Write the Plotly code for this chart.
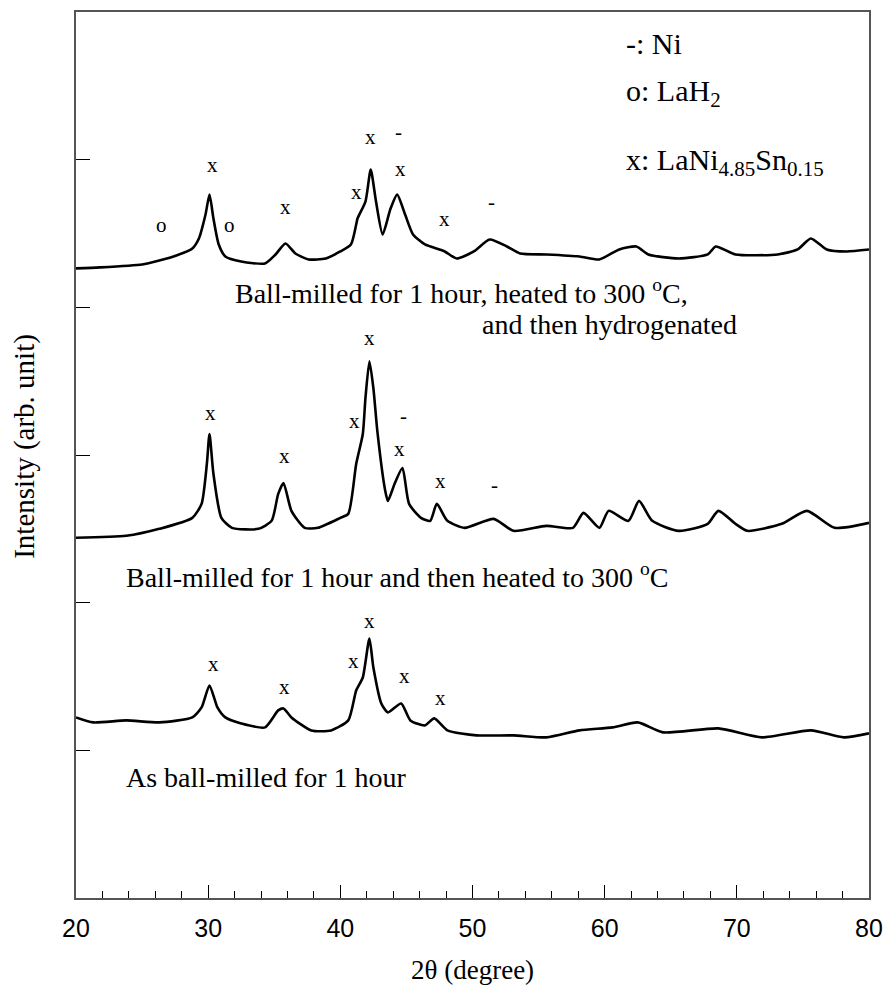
import plotly.graph_objects as go

# ---- data (2theta in degrees, intensity in arb. units) ----
top_2theta = [20.0, 21.8, 25.0, 26.3, 27.6, 28.8, 29.3, 29.8, 30.1, 30.4, 30.8, 31.3, 32.5, 34.3,
              35.1, 35.85, 36.6, 37.6, 38.9, 40.0, 40.8, 41.2, 41.3, 41.9, 42.3, 42.7, 43.2, 43.8,
              44.3, 44.9, 45.5, 46.4, 47.9, 48.8, 50.1, 51.3, 52.6, 53.6, 55.6, 58.1, 59.6, 61.1,
              62.4, 63.3, 65.6, 67.8, 68.4, 69.9, 73.1, 74.6, 75.6, 76.8, 78.3, 80.0]
top_int = [631, 632, 635, 639, 644, 651, 661, 685, 705, 681, 655, 643, 638, 636,
           645, 656, 646, 640, 641, 648, 655, 675, 681, 698, 730, 698, 665, 691,
           705, 685, 665, 655, 648, 641, 648, 660, 653, 646, 645, 643, 640, 650,
           653, 645, 641, 645, 653, 645, 645, 650, 661, 650, 648, 650]

mid_2theta = [20.0, 23.8, 26.3, 28.8, 29.5, 29.9, 30.1, 30.4, 31.0, 31.8, 33.8, 34.8, 35.3, 35.7,
              36.3, 37.3, 38.3, 40.0, 40.6, 41.2, 41.7, 41.9, 42.2, 42.5, 42.8, 43.4, 43.6, 44.1,
              44.7, 45.2, 46.1, 46.8, 47.3, 48.1, 49.4, 51.6, 53.1, 55.6, 57.6, 58.4, 59.6, 60.3,
              61.8, 62.6, 63.6, 65.6, 67.8, 68.6, 69.9, 70.8, 73.4, 75.3, 77.4, 80.0]
mid_int = [361, 363, 370, 381, 395, 435, 465, 425, 381, 371, 370, 378, 405, 416,
           388, 371, 371, 381, 385, 435, 465, 501, 538, 511, 468, 408, 398, 415,
           431, 395, 381, 378, 395, 378, 371, 380, 368, 373, 371, 386, 371, 388,
           378, 398, 378, 368, 375, 388, 375, 368, 375, 388, 371, 376]

bot_2theta = [20.0, 21.3, 23.8, 26.3, 28.8, 29.5, 30.1, 30.7, 31.3, 32.5, 34.3, 35.3, 35.7, 36.3,
              37.8, 39.3, 40.6, 41.2, 41.7, 42.2, 42.5, 43.1, 43.6, 44.6, 45.3, 46.4, 47.1, 48.1,
              50.3, 53.1, 55.6, 58.1, 60.6, 62.5, 64.4, 68.6, 71.9, 75.6, 78.1, 80.0]
bot_int = [181, 176, 178, 176, 181, 191, 213, 191, 181, 175, 171, 188, 190, 181,
           168, 168, 178, 208, 221, 260, 231, 195, 186, 195, 178, 173, 180, 168,
           163, 163, 161, 168, 171, 176, 166, 170, 161, 168, 161, 165]

# peak labels (symbol, 2theta, height)
peak_sym = ["o", "x", "o", "x", "x", "x", "-", "x", "x", "-",
            "x", "x", "x", "x", "-", "x", "x", "-",
            "x", "x", "x", "x", "x", "x"]
peak_2theta = [26.5, 30.3, 31.6, 35.85, 41.2, 42.3, 44.4, 44.55, 47.9, 51.4,
               30.2, 35.8, 41.1, 42.2, 44.8, 44.5, 47.6, 51.7,
               30.4, 35.8, 41.0, 42.2, 44.85, 47.6]
peak_int = [675, 735, 675, 693, 708, 763, 768, 731, 681, 698,
            486, 443, 478, 561, 483, 450, 418, 414,
            235, 211, 238, 278, 223, 200]

legend_text = ["-: Ni", "o: LaH<sub>2</sub>", "x: LaNi<sub>4.85</sub>Sn<sub>0.15</sub>"]
legend_2theta = [61.5, 61.5, 61.5]
legend_int = [856, 807, 738]

caption_text = ["Ball-milled for 1 hour, heated to 300 <sup>o</sup>C,",
                "and then hydrogenated",
                "Ball-milled for 1 hour and then heated to 300 <sup>o</sup>C",
                "As ball-milled for 1 hour"]
caption_2theta = [31.9, 50.6, 23.6, 23.6]
caption_int = [608, 575, 323, 121]

x_ticks = [20, 30, 40, 50, 60, 70, 80]
y_ticks = [148, 296, 444, 592, 740]

SERIF = "Liberation Serif, Times New Roman, serif"
SANS = "Liberation Sans, Arial, sans-serif"

fig = go.Figure()
for xs, ys in [(top_2theta, top_int), (mid_2theta, mid_int), (bot_2theta, bot_int)]:
    fig.add_trace(go.Scatter(x=xs, y=ys, mode="lines",
                             line=dict(color="black", width=2.6, shape="spline", smoothing=0.6),
                             showlegend=False, hoverinfo="skip"))

ann = []
for s, xv, yv in zip(peak_sym, peak_2theta, peak_int):
    ann.append(dict(x=xv, y=yv, xref="x", yref="y", text=s, showarrow=False,
                    font=dict(family=SERIF, size=21, color="black"),
                    xanchor="center", yanchor="middle"))
for t, xv, yv in zip(legend_text, legend_2theta, legend_int):
    ann.append(dict(x=xv, y=yv, xref="x", yref="y", text=t, showarrow=False,
                    font=dict(family=SERIF, size=30, color="black"),
                    xanchor="left", yanchor="middle"))
for t, xv, yv in zip(caption_text, caption_2theta, caption_int):
    ann.append(dict(x=xv, y=yv, xref="x", yref="y", text=t, showarrow=False,
                    font=dict(family=SERIF, size=28, color="black"),
                    xanchor="left", yanchor="middle"))

# axis titles
ann.append(dict(x=0.5, y=-0.081, xref="paper", yref="paper", text="2θ (degree)",
                showarrow=False, font=dict(family=SERIF, size=27, color="black"),
                xanchor="center", yanchor="middle"))
ann.append(dict(x=-0.066, y=0.51, xref="paper", yref="paper", text="Intensity (arb. unit)",
                showarrow=False, textangle=-90, font=dict(family=SERIF, size=29, color="black"),
                xanchor="center", yanchor="middle"))

fig.update_layout(
    width=893, height=996,
    margin=dict(l=76, r=18, t=10, b=98),
    paper_bgcolor="white", plot_bgcolor="white",
    annotations=ann,
    xaxis=dict(range=[20, 80], tickvals=x_ticks, ticks="inside", ticklen=13, tickwidth=1.2,
               tickcolor="black", showline=True, linecolor="#555", linewidth=1.5,
               mirror=True, showgrid=False, zeroline=False, ticklabelstandoff=7,
               tickfont=dict(family=SANS, size=25, color="black"),
               minor=dict(dtick=2, tick0=20, ticks="inside", ticklen=7, tickwidth=1.2,
                          tickcolor="black", showgrid=False)),
    yaxis=dict(range=[0, 888], tickvals=y_ticks, ticks="inside", ticklen=14, tickwidth=1.2,
               tickcolor="black", showticklabels=False, showline=True, linecolor="#555",
               linewidth=1.5, mirror=True, showgrid=False, zeroline=False),
)

fig.write_html("out.html")
